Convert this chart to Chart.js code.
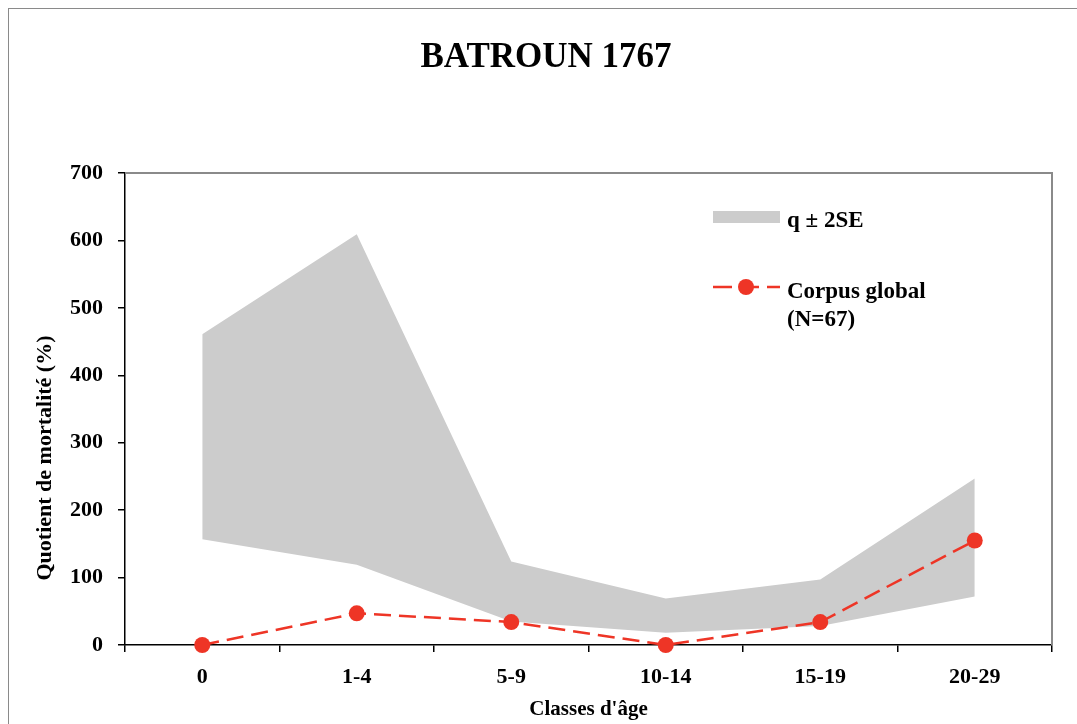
<!DOCTYPE html>
<html>
<head>
<meta charset="utf-8">
<script src="https://cdn.jsdelivr.net/npm/chart.js@4.4.1/dist/chart.umd.min.js"></script>
<style>
  html, body { margin: 0; padding: 0; background: #fff; overflow: hidden; }
  #frame { position: absolute; left: 8px; top: 8px; width: 1200px; height: 800px; border: 1px solid #8a8a8a; }
  #wrap { position: absolute; left: 0; top: 0; width: 1077px; height: 724px; }
</style>
</head>
<body>
<div id="frame"></div>
<div id="wrap"><canvas id="myChart" width="1077" height="724"></canvas></div>
<script>
// Classes d'âge
const categories = ["0", "1-4", "5-9", "10-14", "15-19", "20-29"];
// enveloppe q ± 2SE
const bandUpper = [461, 609, 124, 69, 97, 247];
const bandLower = [157, 119, 35, 18, 28, 72];
// Corpus global (N=67)
const corpusGlobal = [0, 47, 34, 0, 34, 155];
const yTicks = [0, 100, 200, 300, 400, 500, 600, 700];

const RED = "#ee3526";
const GREY = "#cccccc";
const SERIF = "'Liberation Serif', 'Times New Roman', serif";

// cadre gris en haut et à droite de la zone de tracé
const plotBorder = {
  id: "plotBorder",
  afterDatasetsDraw(chart) {
    const { ctx, chartArea: a } = chart;
    ctx.save();
    ctx.strokeStyle = "#8a8a8a";
    ctx.lineWidth = 2;
    ctx.beginPath();
    ctx.moveTo(a.left, a.top);
    ctx.lineTo(a.right, a.top);
    ctx.lineTo(a.right, a.bottom);
    ctx.stroke();
    ctx.restore();
  }
};

// titre de l'axe Y (un peu plus bas que le centre, comme l'original)
const yTitle = {
  id: "yTitle",
  afterDraw(chart) {
    const { ctx, chartArea: a } = chart;
    ctx.save();
    ctx.translate(a.left - 80, (a.top + a.bottom) / 2 + 49);
    ctx.rotate(-Math.PI / 2);
    ctx.fillStyle = "#000";
    ctx.font = "bold 22px " + SERIF;
    ctx.textAlign = "center";
    ctx.textBaseline = "middle";
    ctx.fillText("Quotient de mortalité (%)", 0, 0);
    ctx.restore();
  }
};

// légende à l'intérieur du graphique
const innerLegend = {
  id: "innerLegend",
  afterDraw(chart) {
    const { ctx, chartArea: a } = chart;
    const x0 = a.left + 588;
    const y0 = a.top;
    ctx.save();
    ctx.fillStyle = GREY;
    ctx.fillRect(x0, y0 + 38, 67, 12);

    ctx.strokeStyle = RED;
    ctx.lineWidth = 2.5;
    ctx.setLineDash([19, 8]);
    ctx.beginPath();
    ctx.moveTo(x0, y0 + 114);
    ctx.lineTo(x0 + 67, y0 + 114);
    ctx.stroke();
    ctx.setLineDash([]);
    ctx.fillStyle = RED;
    ctx.beginPath();
    ctx.arc(x0 + 33, y0 + 114, 8, 0, Math.PI * 2);
    ctx.fill();

    ctx.fillStyle = "#000";
    ctx.font = "bold 23px " + SERIF;
    ctx.textBaseline = "alphabetic";
    ctx.textAlign = "left";
    ctx.fillText("q ± 2SE", x0 + 74, y0 + 54);
    ctx.fillText("Corpus global", x0 + 74, y0 + 125);
    ctx.fillText("(N=67)", x0 + 74, y0 + 153);
    ctx.restore();
  }
};

const ctx = document.getElementById("myChart").getContext("2d");

new Chart(ctx, {
  type: "line",
  data: {
    labels: categories,
    datasets: [
      {
        label: "q - 2SE",
        data: bandLower,
        borderWidth: 0,
        pointRadius: 0,
        fill: false,
        order: 3
      },
      {
        label: "q ± 2SE",
        data: bandUpper,
        borderWidth: 0,
        pointRadius: 0,
        backgroundColor: GREY,
        fill: "-1",
        order: 2
      },
      {
        label: "Corpus global (N=67)",
        data: corpusGlobal,
        borderColor: RED,
        backgroundColor: RED,
        borderWidth: 2.5,
        borderDash: [17, 8],
        pointRadius: 8,
        pointBorderWidth: 0,
        pointBackgroundColor: RED,
        fill: false,
        clip: false,
        order: 1
      }
    ]
  },
  options: {
    responsive: false,
    animation: false,
    events: [],
    layout: { padding: { left: 40, right: 25, top: 0, bottom: 0 } },
    plugins: {
      legend: { display: false },
      tooltip: { enabled: false },
      title: {
        display: true,
        text: "BATROUN 1767",
        color: "#000",
        font: { family: SERIF, size: 35, weight: "bold" },
        padding: { top: 37, bottom: 94 }
      }
    },
    scales: {
      x: {
        offset: true,
        grid: { offset: true, drawOnChartArea: false, drawTicks: true, tickLength: 7, color: "#000", lineWidth: 1.5 },
        border: { color: "#000", width: 1.5 },
        ticks: { color: "#000", padding: 12, font: { family: SERIF, size: 22, weight: "bold" } },
        title: {
          display: true,
          text: "Classes d'âge",
          color: "#000",
          font: { family: SERIF, size: 21, weight: "bold" },
          padding: { top: 0, bottom: 2 }
        },
        afterFit(scale) { scale.height = 79; }
      },
      y: {
        min: 0,
        max: 700,
        afterBuildTicks(scale) { scale.ticks = yTicks.map(v => ({ value: v })); },
        grid: { drawOnChartArea: false, drawTicks: true, tickLength: 7, color: "#000", lineWidth: 1.5 },
        border: { color: "#000", width: 1.5 },
        ticks: { color: "#000", padding: 15, font: { family: SERIF, size: 22, weight: "bold" } },
        afterFit(scale) { scale.width = 85; }
      }
    }
  },
  plugins: [plotBorder, yTitle, innerLegend]
});
</script>
</body>
</html>
